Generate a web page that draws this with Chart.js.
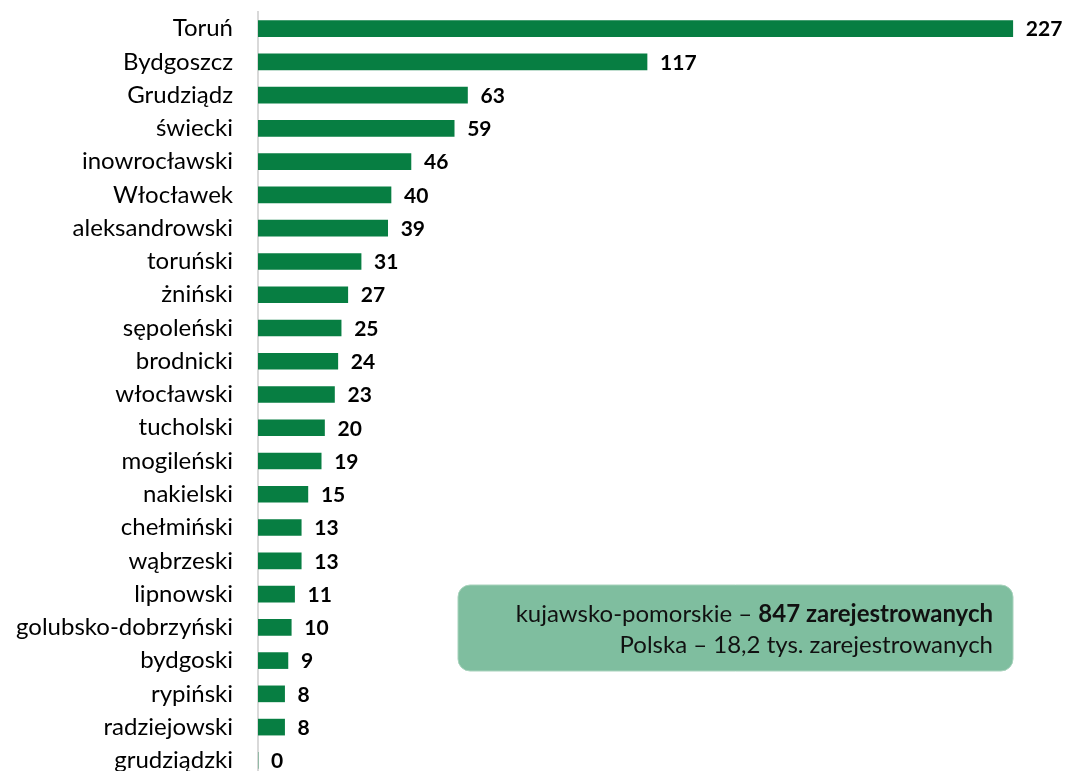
<!DOCTYPE html>
<html>
<head>
<meta charset="utf-8">
<script src="https://cdn.jsdelivr.net/npm/chart.js@4/dist/chart.umd.min.js"></script>
<style>
  html, body { margin: 0; padding: 0; background: #fff; overflow: hidden; }
  #wrap { width: 1065px; height: 790px; }
</style>
</head>
<body>
<div id="wrap"><canvas id="regChart" width="1065" height="790"></canvas></div>
<script>
// Registered persons by district (kujawsko-pomorskie)
const districts = ['Toruń', 'Bydgoszcz', 'Grudziądz', 'świecki', 'inowrocławski', 'Włocławek',
  'aleksandrowski', 'toruński', 'żniński', 'sępoleński', 'brodnicki', 'włocławski', 'tucholski',
  'mogileński', 'nakielski', 'chełmiński', 'wąbrzeski', 'lipnowski', 'golubsko-dobrzyński',
  'bydgoski', 'rypiński', 'radziejowski', 'grudziądzki'];
const registered = [227, 117, 63, 59, 46, 40, 39, 31, 27, 25, 24, 23, 20, 19, 15, 13, 13, 11, 10, 9, 8, 8, 0];
const boxLines = [
  ['kujawsko-pomorskie – ', '847 zarejestrowanych'],
  ['Polska – 18,2 tys. zarejestrowanych', '']
];

const FONT = 'Lato, "Open Sans", sans-serif';

// draws value labels at the end of each bar
const valueLabels = {
  id: 'valueLabels',
  afterDatasetsDraw(chart) {
    const ctx = chart.ctx;
    const meta = chart.getDatasetMeta(0);
    ctx.save();
    ctx.font = 'bold 21px ' + FONT;
    ctx.fillStyle = '#000';
    ctx.textBaseline = 'middle';
    ctx.textAlign = 'left';
    meta.data.forEach((bar, i) => {
      ctx.fillText(String(registered[i]), bar.x + 13, bar.y + 1);
    });
    ctx.restore();
  }
};

// summary box in the lower right
const summaryBox = {
  id: 'summaryBox',
  afterDraw(chart) {
    const ctx = chart.ctx;
    const x = 458, y = 585, w = 555, h = 86, r = 12;
    ctx.save();
    ctx.beginPath();
    ctx.roundRect(x, y, w, h, r);
    ctx.fillStyle = '#7fbe9f';
    ctx.fill();
    ctx.strokeStyle = '#a8d2bc';
    ctx.lineWidth = 1;
    ctx.stroke();
    ctx.fillStyle = '#111';
    ctx.textBaseline = 'middle';
    const right = x + w - 20;
    const ys = [y + 29, y + 60];
    boxLines.forEach((parts, i) => {
      ctx.font = 'bold 24px ' + FONT;
      const bw = ctx.measureText(parts[1]).width;
      ctx.textAlign = 'right';
      ctx.fillText(parts[1], right, ys[i]);
      ctx.font = '24px ' + FONT;
      ctx.fillText(parts[0], right - bw, ys[i]);
    });
    ctx.restore();
  }
};

new Chart(document.getElementById('regChart'), {
  type: 'bar',
  data: {
    labels: districts,
    datasets: [{
      data: registered,
      backgroundColor: '#077e42',
      barThickness: 16
    }]
  },
  options: {
    indexAxis: 'y',
    responsive: false,
    animation: false,
    layout: { padding: { top: 12, bottom: 13, right: 9 } },
    plugins: { legend: { display: false }, tooltip: { enabled: false } },
    scales: {
      x: { display: false, min: 0, max: 240 },
      y: {
        afterFit: s => { s.width = 258; s.paddingTop = 0; s.paddingBottom = 0; },
        grid: { display: false, drawTicks: false },
        border: { color: '#d9d9d9', width: 2 },
        ticks: { color: '#000', padding: 25, font: { size: 24, family: FONT } }
      }
    }
  },
  plugins: [valueLabels, summaryBox]
});
</script>
</body>
</html>
